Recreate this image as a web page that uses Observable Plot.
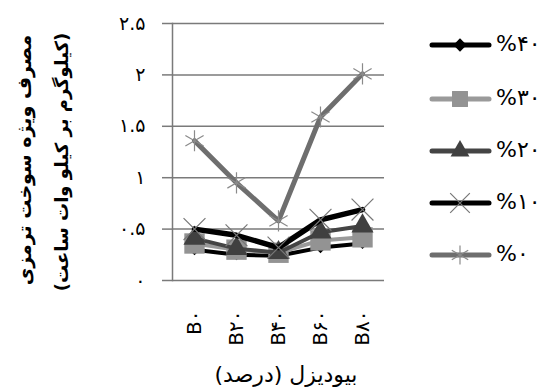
<!DOCTYPE html>
<html><head><meta charset="utf-8">
<script src="https://cdn.jsdelivr.net/npm/d3@7"></script>
<script src="https://cdn.jsdelivr.net/npm/@observablehq/plot@0.6"></script>
<style>
body{margin:0;background:#fff}
#c{position:relative;width:546px;height:387px;overflow:hidden}
</style>
</head><body><div id="c"></div>
<script>
// ---- data ----
const categories = ["B۰", "B۲۰", "B۴۰", "B۶۰", "B۸۰"];
const seriesNames = ["%۴۰", "%۳۰", "%۲۰", "%۱۰", "%۰"];
const values40 = [0.30, 0.25, 0.24, 0.32, 0.36];
const values30 = [0.36, 0.30, 0.27, 0.39, 0.42];
const values20 = [0.41, 0.31, 0.27, 0.47, 0.53];
const values10 = [0.50, 0.44, 0.32, 0.59, 0.69];
const values0  = [1.36, 0.95, 0.58, 1.59, 2.01];
const yTicks = [0, 0.5, 1, 1.5, 2, 2.5];
const yTickLabels = ["۰", "۰.۵", "۱", "۱.۵", "۲", "۲.۵"];
const yTitle1 = "مصرف ویژه سوخت ترمزی";
const yTitle2 = "(کیلوگرم بر کیلو وات ساعت)";
const xTitle = "بیودیزل (درصد)";

// ---- styles ----
const seriesValues = [values40, values30, values20, values10, values0];
const styles = [
  {line: "#000000", width: 4, symbol: "diamond2", r: 5, fill: "#000000", stroke: "none", sw: 0},
  {line: "#9a9a9a", width: 4, symbol: "square", r: 11.5, fill: "#939393", stroke: "none", sw: 0},
  {line: "#444444", width: 4, symbol: "triangle", r: 8.2, fill: "#404040", stroke: "none", sw: 0},
  {line: "#000000", width: 5.5, symbol: "times", r: 10, fill: "none", stroke: "#777777", sw: 1.2},
  {line: "#6e6e6e", width: 5, symbol: "asterisk", r: 10, fill: "none", stroke: "#8a8a8a", sw: 1.2}
];

const rows = seriesNames.map((s, i) => categories.map((c, j) => ({series: s, cat: c, value: seriesValues[i][j]})));

const fontFam = "'DejaVu Sans', sans-serif";
const marks = [
  Plot.gridY(yTicks, {stroke: "#7a7a7a", strokeOpacity: 1, strokeWidth: 1.5}),
  Plot.axisY(yTicks, {tickFormat: d => yTickLabels[yTicks.indexOf(d)], tickSize: 10, tickPadding: 17,
    stroke: "#7a7a7a", strokeWidth: 1.5, label: null, fontSize: 19, fill: "#000"}),
  Plot.axisX({tickSize: 0, tickPadding: 30, tickRotate: -90, label: null, fontSize: 20, fill: "#000"}),
  Plot.frame({anchor: "left", stroke: "#7a7a7a", strokeWidth: 1.5})
];
rows.forEach((data, i) => {
  const st = styles[i];
  marks.push(Plot.line(data, {x: "cat", y: "value", stroke: st.line, strokeWidth: st.width, strokeLinejoin: "round", strokeLinecap: "round"}));
  marks.push(Plot.dot(data, {x: "cat", y: "value", symbol: () => st.symbol, r: st.r, fill: st.fill, stroke: st.stroke, strokeWidth: st.sw}));
});

const chart = Plot.plot({
  width: 546, height: 387,
  marginLeft: 172, marginRight: 162, marginTop: 23, marginBottom: 107,
  style: {fontFamily: fontFam, fontSize: "17px", background: "#fff", color: "#000", overflow: "visible"},
  x: {domain: categories, type: "point", padding: 0.5, label: null},
  y: {domain: [0, 2.5], label: null},
  symbol: {type: "identity"},
  marks
});
document.getElementById("c").appendChild(chart);

// ---- titles & legend ----
const svg = d3.select(chart);
svg.append("text").attr("transform", "translate(25,160) rotate(-90)")
  .attr("text-anchor", "middle").attr("dominant-baseline", "middle")
  .attr("font-family", fontFam).attr("font-size", 19).attr("font-weight", "bold").text(yTitle1);
svg.append("text").attr("transform", "translate(63,162) rotate(-90)")
  .attr("text-anchor", "middle").attr("dominant-baseline", "middle")
  .attr("font-family", fontFam).attr("font-size", 18).attr("font-weight", "bold").text(yTitle2);
svg.append("text").attr("x", 286).attr("y", 376)
  .attr("text-anchor", "middle").attr("dominant-baseline", "middle")
  .attr("font-family", fontFam).attr("font-size", 22).text(xTitle);

const symMap = {diamond2: d3.symbolDiamond2, square: d3.symbolSquare, triangle: d3.symbolTriangle, times: d3.symbolTimes, asterisk: d3.symbolAsterisk};
const legY = [45, 99, 151, 203, 255];
const legR = [6, 9, 7, 9, 9];
const lg = svg.append("g");
seriesNames.forEach((s, i) => {
  const st = styles[i];
  const y = legY[i];
  lg.append("line").attr("x1", 432).attr("x2", 489).attr("y1", y).attr("y2", y)
    .attr("stroke", st.line).attr("stroke-width", 5).attr("stroke-linecap", "round");
  lg.append("path").attr("transform", `translate(460,${y})`)
    .attr("d", d3.symbol(symMap[st.symbol], Math.PI * legR[i] * legR[i])())
    .attr("fill", st.fill).attr("stroke", st.stroke).attr("stroke-width", st.sw);
  lg.append("text").attr("x", 496).attr("y", y).attr("dominant-baseline", "middle")
    .attr("text-anchor", "start").attr("direction", "ltr")
    .attr("font-family", fontFam).attr("font-size", 22).text(s);
});
</script>
</body></html>
